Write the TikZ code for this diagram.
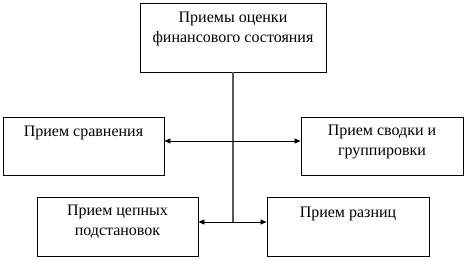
\documentclass[tikz,border=0pt]{standalone}
\usepackage{fontspec}
\setmainfont{Liberation Serif}
\usetikzlibrary{arrows.meta}
\begin{document}
\begin{tikzpicture}[x=1pt,y=1pt,
  box/.style={draw=black, line width=0.9pt, inner sep=0pt, minimum height=58pt, minimum width=161pt},
  lbl/.style={inner sep=0pt, anchor=base, align=center, font=\rmfamily\fontsize{16}{19.5}\selectfont},
  conn/.style={draw=black, line width=0.8pt, -{Triangle[length=6pt,width=5pt]}}]
\useasboundingbox (0,0) rectangle (467,260);
\node[box, minimum width=186pt, minimum height=69pt] (top) at (233,222.5) {};
\node[box] (l) at (83.5,114) {};
\node[box, minimum width=162pt] (r) at (382,114) {};
\node[box, minimum height=59pt] (bl) at (117.5,33.5) {};
\node[box, minimum width=162pt, minimum height=59pt] (br) at (348,33.5) {};
\node[lbl] (ttop) at ([yshift=-39.5pt]top.north) {Приемы оценки\\финансового состояния};
\node[lbl] (tl) at ([yshift=-20pt]l.north) {Прием сравнения};
\node[lbl] (tr) at ([yshift=-38.5pt]r.north) {Прием сводки и\\группировки};
\node[lbl] (tbl) at ([yshift=-38.5pt]bl.north) {Прием цепных\\подстановок};
\node[lbl] (tbr) at ([yshift=-21pt]br.north) {Прием разниц};
\coordinate (j1) at (233,119);
\coordinate (j2) at (233,38);
\draw[draw=black!65, line width=1.2pt] (top.south) -- (j2);
\draw[conn] (j1) -- (l.east |- j1);
\draw[conn] (j1) -- (r.west |- j1);
\draw[conn] (j2) -- (bl.east |- j2);
\draw[conn] (j2) -- (br.west |- j2);
\end{tikzpicture}
\end{document}
